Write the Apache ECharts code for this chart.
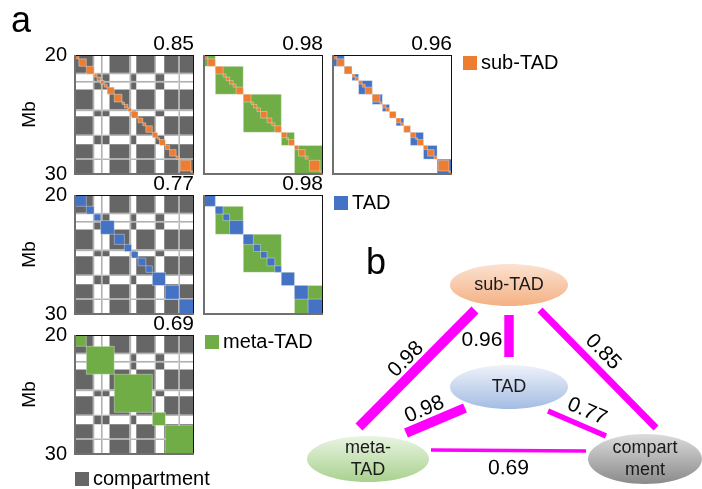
<!DOCTYPE html>
<html>
<head>
<meta charset="utf-8">
<script src="https://cdn.jsdelivr.net/npm/echarts@6/dist/echarts.min.js"></script>
<style>
  html, body { margin: 0; padding: 0; background: #fff; }
  #chart { width: 702px; height: 489px; }
</style>
</head>
<body>
<div id="chart"></div>
<script>
// ---- genomic window (Mb) ----
const MB_MIN = 20;
const MB_MAX = 30;
const MB_TICK = 10;

// ---- A/B compartment segments: start, end, state (A, B, or a narrow boundary bin) ----
const compStart = [20.00, 21.50, 21.62, 22.18, 22.32, 22.90, 24.58, 24.72, 25.15, 26.70, 26.80, 27.50, 28.70, 28.82];
const compEnd   = [21.50, 21.62, 22.18, 22.32, 22.90, 24.58, 24.72, 25.15, 26.70, 26.80, 27.50, 28.70, 28.82, 30.00];
const compState = ['B', 'L', 'A', 'L', 'A', 'B', 'L', 'A', 'B', 'L', 'A', 'B', 'L', 'B'];

// ---- domain calls (start / end, Mb) ----
const subTadStart = [20.00, 20.32, 20.95, 21.60, 21.85, 22.15, 22.45, 22.70, 23.30, 23.95, 24.15, 24.45, 24.75, 25.30, 25.70, 25.95, 26.50, 26.95, 27.10, 27.60, 27.95, 28.50, 28.85, 29.75];
const subTadEnd   = [20.32, 20.95, 21.60, 21.85, 22.15, 22.45, 22.70, 23.30, 23.95, 24.15, 24.45, 24.75, 25.30, 25.70, 25.95, 26.50, 26.95, 27.10, 27.60, 27.95, 28.50, 28.75, 29.75, 30.00];

const tadStart = [20.00, 20.95, 21.60, 22.15, 23.30, 24.15, 24.75, 25.30, 25.95, 26.50, 27.60, 28.75];
const tadEnd   = [20.95, 21.60, 22.15, 23.30, 24.15, 24.75, 25.30, 25.95, 26.50, 27.60, 28.75, 30.00];

const metaStart = [20.00, 20.95, 23.30, 26.50, 27.60];
const metaEnd   = [20.95, 23.30, 26.50, 27.60, 30.00];

// ---- pairwise similarity between hierarchy levels ----
const levels    = ['sub-TAD', 'TAD', 'meta-TAD', 'compartment'];
const pairA     = ['sub-TAD', 'sub-TAD', 'sub-TAD', 'TAD', 'TAD', 'meta-TAD'];
const pairB     = ['compartment', 'meta-TAD', 'TAD', 'compartment', 'meta-TAD', 'compartment'];
const pairScore = [0.85, 0.98, 0.96, 0.77, 0.98, 0.69];

// ---------------------------------------------------------------
const FONT = "'Liberation Sans', Arial, Helvetica, sans-serif";
const COLORS = {
  'sub-TAD': '#ED7D31',
  'TAD': '#4472C4',
  'meta-TAD': '#70AD47',
  'compartment': '#666666'
};
const BOUNDARY_GRAY = '#b2b2b2';
const domainSets = {
  'sub-TAD': [subTadStart, subTadEnd],
  'TAD': [tadStart, tadEnd],
  'meta-TAD': [metaStart, metaEnd]
};

// panel layout (pixels)
const PANEL = 119;
const panels = [
  { left: 75,  top: 55,  back: 'compartment', front: 'sub-TAD' },
  { left: 204, top: 55,  back: 'meta-TAD',    front: 'sub-TAD' },
  { left: 333, top: 55,  back: 'TAD',         front: 'sub-TAD' },
  { left: 75,  top: 195, back: 'compartment', front: 'TAD' },
  { left: 204, top: 195, back: 'meta-TAD',    front: 'TAD' },
  { left: 75,  top: 335, back: 'compartment', front: 'meta-TAD' }
];

// network layout (pixels): centre and radii of each node
const nodeLayout = {
  'sub-TAD':     { x: 509, y: 285, rx: 59, ry: 21, label: 'sub-TAD',
                   grad: ['#fbe2d2', '#f4b183'] },
  'TAD':         { x: 509, y: 387, rx: 59, ry: 22, label: 'TAD',
                   grad: ['#eef2fa', '#a4bce3'] },
  'meta-TAD':    { x: 368, y: 459, rx: 61, ry: 23, label: 'meta-\nTAD',
                   grad: ['#e9f4e2', '#a9d18e'] },
  'compartment': { x: 645, y: 459, rx: 57, ry: 25, label: 'compart\nment',
                   grad: ['#dcdcdc', '#8a8a8a'] }
};
// edge anchor offsets from node centres, and label offset from edge midpoint
const edgeLayout = [
  { a: [31, 25],  b: [11, -31], lab: [5, -17] },
  { a: [-34, 25], b: [-9, -32], lab: [-11, -9] },
  { a: [0, 30],   b: [0, -30],  lab: [-27, 4] },
  { a: [39, 24],  b: [-39, -23], lab: [10, -12] },
  { a: [-44, 21], b: [38, -26], lab: [-11, -11] },
  { a: [63, -9],  b: [-59, -8], lab: [0, 18] }
];
const edgeWidth = s => 3.5 + (s - 0.69) * 22;

// ---------------------------------------------------------------
function pairIndex(u, v) {
  for (let i = 0; i < pairA.length; i++) {
    if ((pairA[i] === u && pairB[i] === v) || (pairA[i] === v && pairB[i] === u)) return i;
  }
  return -1;
}

// compartment contact cells: same state -> filled, boundary bins -> light
const compCells = [];
for (let i = 0; i < compStart.length; i++) {
  for (let j = 0; j < compStart.length; j++) {
    let kind = -1;
    if (compState[i] === 'L' || compState[j] === 'L') kind = 1;
    else if (compState[i] === compState[j]) kind = 0;
    if (kind >= 0) compCells.push([compStart[j], compEnd[j], compStart[i], compEnd[i], kind]);
  }
}

function cellItem(params, api) {
  const p0 = api.coord([api.value(0), api.value(2)]);
  const p1 = api.coord([api.value(1), api.value(3)]);
  return {
    type: 'rect',
    shape: { x: p0[0], y: p0[1], width: p1[0] - p0[0], height: p1[1] - p0[1] },
    style: { fill: api.value(4) === 0 ? COLORS.compartment : BOUNDARY_GRAY }
  };
}

function domainItemFor(color) {
  return function (params, api) {
    const s = api.value(0), e = api.value(1);
    const p0 = api.coord([s, s]);
    const p1 = api.coord([e, e]);
    return {
      type: 'rect',
      shape: { x: p0[0], y: p0[1], width: p1[0] - p0[0], height: p1[1] - p0[1] },
      style: { fill: color, stroke: 'rgba(255,255,255,0.35)', lineWidth: 1 }
    };
  };
}

function frameItem(params, api) {
  const tl = api.coord([MB_MIN, MB_MIN]);
  const br = api.coord([MB_MAX, MB_MAX]);
  return {
    type: 'group',
    children: [
      { type: 'line', shape: { x1: tl[0], y1: tl[1] + 0.5, x2: br[0], y2: tl[1] + 0.5 }, style: { stroke: '#111', lineWidth: 1 } },
      { type: 'line', shape: { x1: br[0] - 0.5, y1: tl[1], x2: br[0] - 0.5, y2: br[1] }, style: { stroke: '#111', lineWidth: 1 } },
      { type: 'line', shape: { x1: tl[0], y1: br[1], x2: br[0], y2: br[1] }, style: { stroke: '#707070', lineWidth: 2 } },
      { type: 'line', shape: { x1: tl[0], y1: tl[1], x2: tl[0], y2: br[1] + 1 }, style: { stroke: '#707070', lineWidth: 2 } }
    ]
  };
}

function domainData(level) {
  const [st, en] = domainSets[level];
  return st.map((s, i) => [s, en[i]]);
}

const grid = [], xAxis = [], yAxis = [], series = [], title = [];

panels.forEach((p, k) => {
  const firstCol = p.left === panels[0].left;
  grid.push({ left: p.left, top: p.top, width: PANEL, height: PANEL, show: false });
  xAxis.push({ gridIndex: k, type: 'value', min: MB_MIN, max: MB_MAX, show: false });
  yAxis.push({
    gridIndex: k, type: 'value', min: MB_MIN, max: MB_MAX, interval: MB_TICK, inverse: true,
    axisLine: { show: false }, axisTick: { show: false }, splitLine: { show: false },
    axisLabel: { show: firstCol, fontSize: 20, color: '#000', fontFamily: FONT, margin: 8,
                 showMinLabel: true, showMaxLabel: true },
    name: firstCol ? 'Mb' : '', nameLocation: 'middle', nameGap: 36, nameRotate: 90,
    nameTextStyle: { fontSize: 19, color: '#000', fontFamily: FONT }
  });

  if (p.back === 'compartment') {
    series.push({
      type: 'custom', name: 'compartment', coordinateSystem: 'cartesian2d',
      xAxisIndex: k, yAxisIndex: k, silent: true, z: 1,
      itemStyle: { color: COLORS.compartment },
      data: compCells, renderItem: cellItem
    });
  } else {
    series.push({
      type: 'custom', name: p.back, coordinateSystem: 'cartesian2d',
      xAxisIndex: k, yAxisIndex: k, silent: true, z: 2,
      itemStyle: { color: COLORS[p.back] },
      data: domainData(p.back), renderItem: domainItemFor(COLORS[p.back])
    });
  }
  series.push({
    type: 'custom', name: p.front, coordinateSystem: 'cartesian2d',
    xAxisIndex: k, yAxisIndex: k, silent: true, z: 3,
    itemStyle: { color: COLORS[p.front] },
    data: domainData(p.front), renderItem: domainItemFor(COLORS[p.front])
  });
  series.push({
    type: 'custom', name: 'frame', coordinateSystem: 'cartesian2d',
    xAxisIndex: k, yAxisIndex: k, silent: true, z: 5,
    data: [[MB_MIN, MB_MAX]], renderItem: frameItem
  });

  const pi = pairIndex(p.back, p.front);
  title.push({
    text: pairScore[pi].toFixed(2), right: 702 - (p.left + PANEL), top: p.top - 21, padding: 0,
    textStyle: { fontSize: 21, fontWeight: 'normal', color: '#000', fontFamily: FONT }
  });
});

// panel letters
title.push({ text: 'a', left: 11, top: 4, padding: 0,
             textStyle: { fontSize: 36, fontWeight: 'normal', color: '#000', fontFamily: FONT } });
title.push({ text: 'b', left: 366, top: 246, padding: 0,
             textStyle: { fontSize: 36, fontWeight: 'normal', color: '#000', fontFamily: FONT } });

// ---- network panel: cartesian space laid out in pixel units ----
const NET = panels.length;
grid.push({ left: 0, top: 0, width: 702, height: 489, show: false });
xAxis.push({ gridIndex: NET, type: 'value', min: 0, max: 702, show: false });
yAxis.push({ gridIndex: NET, type: 'value', min: 0, max: 489, inverse: true, show: false });

series.push({
  type: 'custom', name: 'edges', coordinateSystem: 'cartesian2d',
  xAxisIndex: NET, yAxisIndex: NET, silent: true, z: 3, clip: false,
  data: pairScore.map((s, i) => [i, s]),
  renderItem: function (params, api) {
    const i = api.value(0), s = api.value(1);
    const A = nodeLayout[pairA[i]], B = nodeLayout[pairB[i]], L = edgeLayout[i];
    const p = api.coord([A.x + L.a[0], A.y + L.a[1]]);
    const q = api.coord([B.x + L.b[0], B.y + L.b[1]]);
    const mx = (p[0] + q[0]) / 2 + L.lab[0], my = (p[1] + q[1]) / 2 + L.lab[1];
    let ang = Math.atan2(-(q[1] - p[1]), q[0] - p[0]);
    if (ang > Math.PI / 2) ang -= Math.PI;
    if (ang <= -Math.PI / 2) ang += Math.PI;
    if (Math.abs(Math.abs(ang) - Math.PI / 2) < 0.01) ang = 0;
    return {
      type: 'group',
      children: [
        { type: 'line', shape: { x1: p[0], y1: p[1], x2: q[0], y2: q[1] },
          style: { stroke: '#ff00ff', lineWidth: edgeWidth(s), lineCap: 'butt' } },
        { type: 'text', x: mx, y: my, rotation: ang,
          style: { text: s.toFixed(2), fill: '#000', font: '21px ' + FONT,
                   align: 'center', verticalAlign: 'middle' } }
      ]
    };
  }
});

series.push({
  type: 'custom', name: 'nodes', coordinateSystem: 'cartesian2d',
  xAxisIndex: NET, yAxisIndex: NET, silent: true, z: 4, clip: false,
  data: levels.map((n, i) => [i]),
  renderItem: function (params, api) {
    const n = nodeLayout[levels[api.value(0)]];
    const c = api.coord([n.x, n.y]);
    return {
      type: 'group',
      children: [
        { type: 'ellipse', shape: { cx: c[0], cy: c[1], rx: n.rx, ry: n.ry },
          style: { fill: { type: 'linear', x: 0, y: 0, x2: 0, y2: 1,
                           colorStops: [{ offset: 0, color: n.grad[0] }, { offset: 1, color: n.grad[1] }] } } },
        { type: 'text', x: c[0], y: c[1],
          style: { text: n.label, fill: '#1a1a1a', font: '18px ' + FONT, lineHeight: 22,
                   align: 'center', verticalAlign: 'middle' } }
      ]
    };
  }
});

// ---- legends ----
function legendAt(name, left, top) {
  return {
    data: [name], left: left, top: top, padding: 0, selectedMode: false,
    icon: 'rect', itemWidth: 14, itemHeight: 14, itemGap: 0,
    textStyle: { fontSize: 20, color: '#000', fontFamily: FONT, padding: [0, 0, 0, -1] }
  };
}

const chart = echarts.init(document.getElementById('chart'));
chart.setOption({
  animation: false,
  backgroundColor: '#fff',
  title: title,
  grid: grid,
  xAxis: xAxis,
  yAxis: yAxis,
  legend: [
    legendAt('sub-TAD', 463, 53),
    legendAt('TAD', 334, 193),
    legendAt('meta-TAD', 205, 332),
    legendAt('compartment', 75, 469)
  ],
  series: series
});
</script>
</body>
</html>
